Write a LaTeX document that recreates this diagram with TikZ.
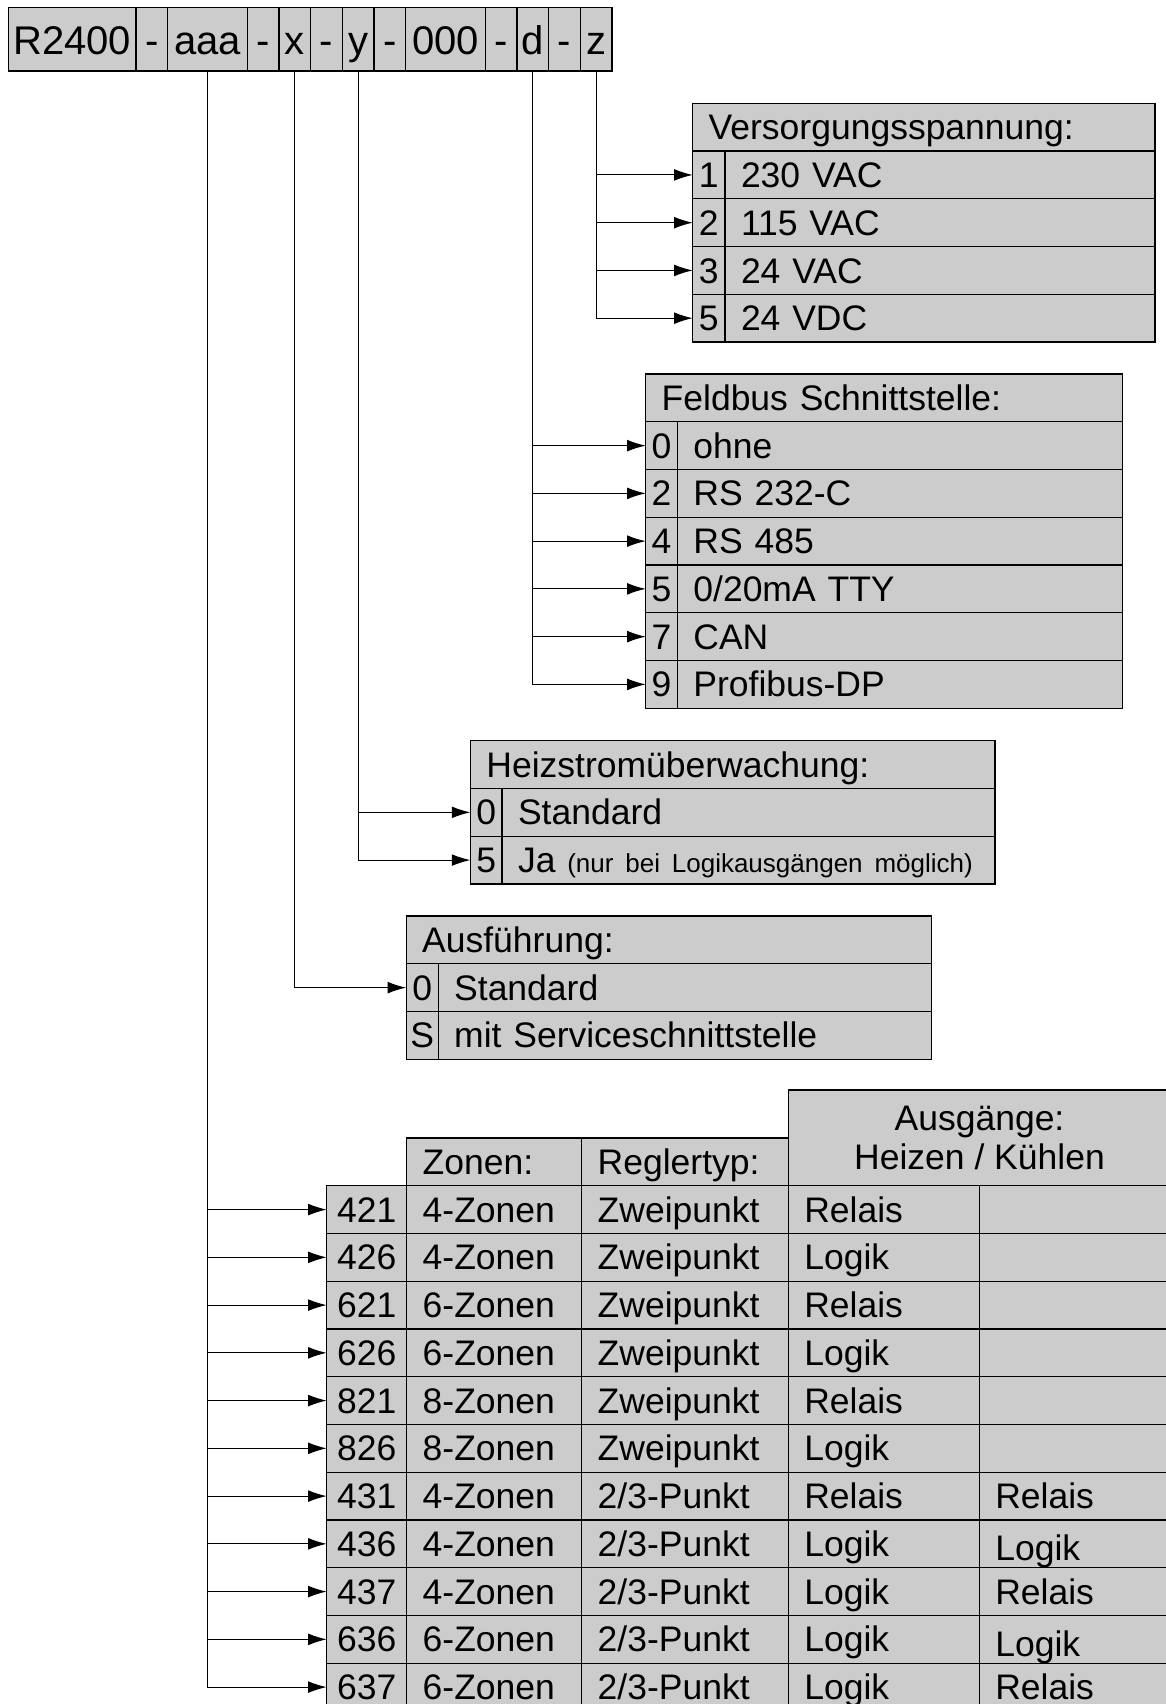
\documentclass[tikz,border=0pt]{standalone}
\usepackage{fontspec}
\setmainfont{Liberation Sans}
\usetikzlibrary{positioning,arrows.meta}
\definecolor{cellgray}{RGB}{204,204,204}
\tikzset{
  cell/.style={draw=black, fill=cellgray, line width=0.6pt, outer sep=0pt, inner sep=0pt,
    minimum height=23.875pt, text height=12.6pt, text depth=0pt,
    font=\fontsize{17.75}{20}\selectfont},
  codebox/.style={cell, minimum width=#1, minimum height=31.85pt, text height=15pt,
    font=\fontsize{20}{24}\selectfont},
  numbox/.style={cell, minimum width=#1},
  txtbox/.style={cell, inner xsep=8pt, text width=#1, align=left},
  link/.style={line width=0.55pt, -{Latex[length=9.3pt,width=5.9pt]}},
}
\newcommand{\klein}[1]{{\fontsize{13}{16}\selectfont #1}}

\begin{document}
\begin{tikzpicture}[x=0.5pt,y=-0.5pt]
\useasboundingbox (0,0) rectangle (1166,1704);
\clip (0,0) rectangle (1166,1704);

% Typenschluessel
\node[codebox=63.85pt, anchor=north west] (code) at (8.3,7.3) {R2400};
\node[codebox=15.85pt, right=0pt of code] (s1) {-};
\node[codebox=39.75pt, right=0pt of s1] (aaa) {aaa};
\node[codebox=15.85pt, right=0pt of aaa] (s2) {-};
\node[codebox=15.85pt, right=0pt of s2] (xsel) {x};
\node[codebox=15.85pt, right=0pt of xsel] (s3) {-};
\node[codebox=15.85pt, right=0pt of s3] (ysel) {y};
\node[codebox=15.85pt, right=0pt of ysel] (s4) {-};
\node[codebox=39.75pt, right=0pt of s4] (zero) {000};
\node[codebox=15.85pt, right=0pt of zero] (s5) {-};
\node[codebox=15.85pt, right=0pt of s5] (dsel) {d};
\node[codebox=15.85pt, right=0pt of dsel] (s6) {-};
\node[codebox=15.85pt, right=0pt of s6] (zsel) {z};

% Versorgungsspannung
\node[txtbox=215.15pt, anchor=north west] (vhead) at (692.7,103.3) {Versorgungsspannung:};
\foreach \k/\t [count=\i] in {1/230 VAC, 2/115 VAC, 3/24 VAC, 5/24 VDC}{
  \node[numbox=16.15pt, anchor=north west] (v\i) at (692.7,103.3+\i*47.75) {\k};
  \node[txtbox=199pt, right=0pt of v\i] (vt\i) {\t};
}
\draw[link] (zsel.south) |- (v4.west);
\foreach \i in {1,2,3}
  \draw[link] (zsel.south |- v\i.west) -- (v\i.west);

% Feldbus
\node[txtbox=222.55pt, anchor=north west] (fhead) at (645.7,374) {Feldbus Schnittstelle:};
\foreach \k/\t [count=\i] in {0/ohne, 2/RS 232-C, 4/RS 485, 5/{0/20mA TTY}, 7/CAN, 9/Profibus-DP}{
  \node[numbox=15.85pt, anchor=north west] (f\i) at (645.7,374+\i*47.75) {\k};
  \node[txtbox=206.7pt, right=0pt of f\i] (ft\i) {\t};
}
\draw[link] (dsel.south) |- (f6.west);
\foreach \i in {1,...,5}
  \draw[link] (dsel.south |- f\i.west) -- (f\i.west);

% Heizstromueberwachung
\node[txtbox=246.3pt, anchor=north west] (hhead) at (470.4,740.7) {Heizstromüberwachung:};
\foreach \k/\t [count=\i] in {0/Standard, 5/{\mbox{Ja \klein{(nur bei Logikausgängen möglich)}}}}{
  \node[numbox=15.8pt, anchor=north west] (h\i) at (470.4,740.7+\i*47.75) {\k};
  \node[txtbox=230.5pt, right=0pt of h\i] (ht\i) {\t};
}
\draw[link] (ysel.south) |- (h2.west);
\draw[link] (ysel.south |- h1.west) -- (h1.west);

% Ausfuehrung
\node[txtbox=246.7pt, anchor=north west] (ahead) at (406.2,916) {Ausführung:};
\foreach \k/\t [count=\i] in {0/Standard, S/mit Serviceschnittstelle}{
  \node[numbox=16pt, anchor=north west] (a\i) at (406.2,916+\i*47.75) {\k};
  \node[txtbox=230.65pt, right=0pt of a\i] (at\i) {\t};
}
\draw[link] (xsel.south) |- (a1.west);

% Grundtyp
\foreach \n/\zo/\rt/\ha/\ku [count=\i from 0] in {
  421/4-Zonen/Zweipunkt/Relais/{},
  426/4-Zonen/Zweipunkt/Logik/{},
  621/6-Zonen/Zweipunkt/Relais/{},
  626/6-Zonen/Zweipunkt/Logik/{},
  821/8-Zonen/Zweipunkt/Relais/{},
  826/8-Zonen/Zweipunkt/Logik/{},
  431/4-Zonen/{2/3-Punkt}/Relais/Relais,
  436/4-Zonen/{2/3-Punkt}/Logik/{\raisebox{-2.2pt}{Logik}},
  437/4-Zonen/{2/3-Punkt}/Logik/Relais,
  636/6-Zonen/{2/3-Punkt}/Logik/{\raisebox{-2.2pt}{Logik}},
  637/6-Zonen/{2/3-Punkt}/Logik/Relais}{
  \node[numbox=40pt, anchor=north west] (b\i) at (326.7,1185.7+\i*47.75) {\n};
  \node[txtbox=71.5pt, right=0pt of b\i] (bz\i) {\zo};
  \node[txtbox=87.3pt, right=0pt of bz\i] (br\i) {\rt};
  \node[txtbox=79.5pt, right=0pt of br\i] (bh\i) {\ha};
  \node[txtbox=79.7pt, right=0pt of bh\i] (bk\i) {\ku};
}
\node[txtbox=71.5pt, above=0pt of bz0] (zhead) {Zonen:};
\node[txtbox=87.3pt, above=0pt of br0] (rhead) {Reglertyp:};
\node[cell, text height={}, text depth={}, minimum width=191.2pt, minimum height=47.85pt,
  align=center, font=\fontsize{17.75}{19.75}\selectfont, anchor=south west] (ohead)
  at (bh0.north west) {Ausgänge:\\Heizen / Kühlen};
\draw[link] (aaa.south) |- (b10.west);
\foreach \i in {0,...,9}
  \draw[link] (aaa.south |- b\i.west) -- (b\i.west);
\end{tikzpicture}
\end{document}
